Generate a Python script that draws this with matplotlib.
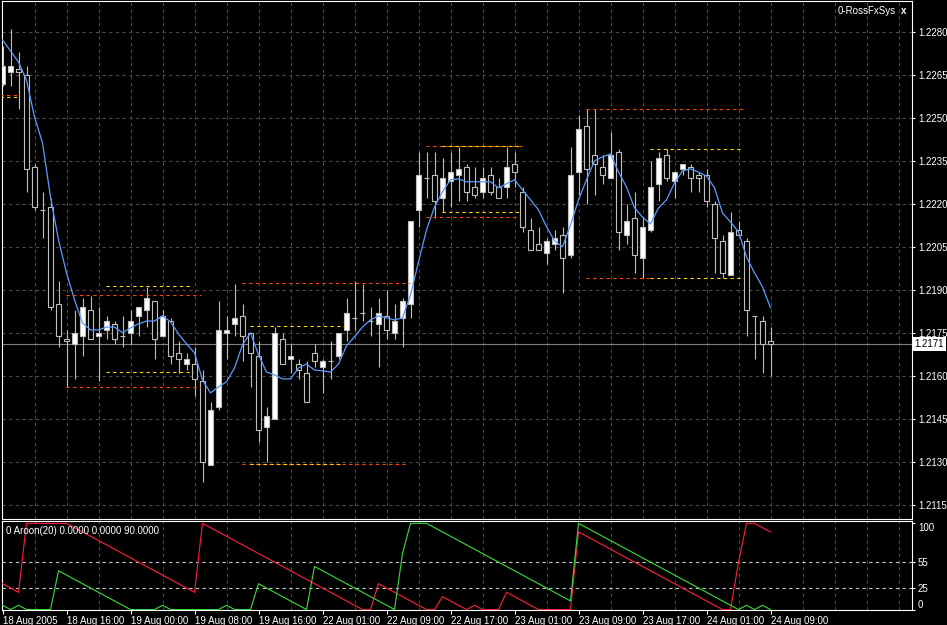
import numpy as np
import matplotlib
matplotlib.use('Agg')
import matplotlib.pyplot as plt

# EURUSD H1, 18 Aug 2005 08:00 .. 24 Aug 2005 09:00
opens = [1.2262, 1.2266, 1.2267, 1.2265, 1.2233, 1.2218, 1.2219, 1.2185, 1.2173, 1.2171,
         1.2174, 1.2183, 1.2174, 1.2176, 1.2178, 1.2174, 1.2175, 1.2181, 1.2183, 1.2186,
         1.2174, 1.2179, 1.2168, 1.2164, 1.2164, 1.2158, 1.2129, 1.2149, 1.2175, 1.2178,
         1.2181, 1.2175, 1.2167, 1.2142, 1.2145, 1.2173, 1.2166, 1.2164, 1.2161, 1.2168,
         1.2163, 1.2165, 1.2167, 1.2176, 1.2180, 1.2182, 1.2179, 1.2178, 1.2181, 1.2175,
         1.2180, 1.2185, 1.2218, 1.2229, 1.2230, 1.2222, 1.2228, 1.2230, 1.2233, 1.2226,
         1.2224, 1.2230, 1.2226, 1.2226, 1.2234, 1.2224, 1.2211, 1.2206, 1.2203, 1.2206,
         1.2209, 1.2202, 1.2231, 1.2247, 1.2237, 1.2233, 1.2229, 1.2238, 1.2209, 1.2215,
         1.2201, 1.2211, 1.2227, 1.2237, 1.2228, 1.2232, 1.2233, 1.2230, 1.2230, 1.2220,
         1.2207, 1.2195, 1.2211, 1.2207, 1.2181, 1.2179, 1.2172]
highs = [1.2275, 1.2281, 1.2273, 1.2268, 1.2234, 1.2224, 1.2222, 1.2193, 1.2176, 1.2183,
         1.2187, 1.2188, 1.2184, 1.2181, 1.2179, 1.2181, 1.2183, 1.2184, 1.2191, 1.2186,
         1.2183, 1.2180, 1.2172, 1.2168, 1.2170, 1.2162, 1.2151, 1.2186, 1.2181, 1.2192,
         1.2185, 1.2175, 1.2172, 1.2149, 1.2177, 1.2175, 1.2171, 1.2166, 1.2165, 1.2171,
         1.2166, 1.2172, 1.2175, 1.2187, 1.2193, 1.2192, 1.2184, 1.2187, 1.2190, 1.2185,
         1.2187, 1.2214, 1.2238, 1.2238, 1.2238, 1.2236, 1.2238, 1.2240, 1.2234, 1.2233,
         1.2233, 1.2233, 1.2229, 1.2240, 1.2238, 1.2226, 1.2215, 1.2212, 1.2208, 1.2211,
         1.2212, 1.2240, 1.2251, 1.2253, 1.2253, 1.2237, 1.2245, 1.2239, 1.2220, 1.2224,
         1.2215, 1.2235, 1.2238, 1.2239, 1.2231, 1.2234, 1.2234, 1.2231, 1.2232, 1.2221,
         1.2209, 1.2217, 1.2214, 1.2208, 1.2181, 1.2181, 1.2177]
lows = [1.2261, 1.2261, 1.2253, 1.2224, 1.2218, 1.2208, 1.2183, 1.2170, 1.2156, 1.2159,
        1.2167, 1.2173, 1.2158, 1.2173, 1.2171, 1.2170, 1.2171, 1.2174, 1.2177, 1.2166,
        1.2174, 1.2164, 1.2161, 1.2162, 1.2153, 1.2123, 1.2129, 1.2148, 1.2166, 1.2174,
        1.2165, 1.2156, 1.2137, 1.2130, 1.2145, 1.2164, 1.2161, 1.2159, 1.2151, 1.2163,
        1.2154, 1.2159, 1.2166, 1.2172, 1.2176, 1.2179, 1.2174, 1.2163, 1.2173, 1.2173,
        1.2170, 1.2180, 1.2212, 1.2222, 1.2215, 1.2217, 1.2219, 1.2221, 1.2221, 1.2222,
        1.2222, 1.2223, 1.2222, 1.2222, 1.2226, 1.2210, 1.2204, 1.2204, 1.2199, 1.2204,
        1.2189, 1.2201, 1.2223, 1.2220, 1.2223, 1.2227, 1.2229, 1.2204, 1.2206, 1.2196,
        1.2194, 1.2210, 1.2221, 1.2228, 1.2222, 1.2230, 1.2224, 1.2224, 1.2219, 1.2196,
        1.2194, 1.2195, 1.2209, 1.2174, 1.2166, 1.2161, 1.2160]
closes = [1.2268, 1.2268, 1.2266, 1.2232, 1.2219, 1.2218, 1.2184, 1.2174, 1.2172, 1.2175,
          1.2184, 1.2173, 1.2175, 1.2179, 1.2173, 1.2174, 1.2179, 1.2184, 1.2187, 1.2173,
          1.2181, 1.2167, 1.2166, 1.2166, 1.2159, 1.2130, 1.2148, 1.2176, 1.2176, 1.2180,
          1.2174, 1.2168, 1.2141, 1.2146, 1.2175, 1.2164, 1.2167, 1.2162, 1.2151, 1.2165,
          1.2165, 1.2165, 1.2175, 1.2182, 1.2180, 1.2182, 1.2179, 1.2182, 1.2176, 1.2179,
          1.2186, 1.2214, 1.2230, 1.2229, 1.2221, 1.2229, 1.2231, 1.2232, 1.2224, 1.2223,
          1.2229, 1.2224, 1.2222, 1.2233, 1.2231, 1.2212, 1.2204, 1.2204, 1.2207, 1.2208,
          1.2201, 1.2230, 1.2246, 1.2232, 1.2234, 1.2230, 1.2237, 1.2210, 1.2214, 1.2202,
          1.2212, 1.2226, 1.2236, 1.2229, 1.2231, 1.2234, 1.2229, 1.2229, 1.2221, 1.2208,
          1.2196, 1.2210, 1.2209, 1.2183, 1.2181, 1.2171, 1.2171]
ma = [1.22772, 1.22734, 1.22695, 1.22632, 1.22503, 1.22413, 1.22224, 1.22074, 1.21959, 1.21865,
      1.21784, 1.21760, 1.21760, 1.21770, 1.21770, 1.21750, 1.21767, 1.21781, 1.21791, 1.21791,
      1.21809, 1.21788, 1.21746, 1.21711, 1.21680, 1.21585, 1.21540, 1.21561, 1.21579, 1.21627,
      1.21708, 1.21750, 1.21673, 1.21613, 1.21603, 1.21589, 1.21589, 1.21627, 1.21641, 1.21620,
      1.21617, 1.21613, 1.21641, 1.21704, 1.21736, 1.21770, 1.21795, 1.21809, 1.21802, 1.21795,
      1.21802, 1.21882, 1.21997, 1.22109, 1.22189, 1.22242, 1.22284, 1.22287, 1.22277, 1.22277,
      1.22277, 1.22277, 1.22256, 1.22270, 1.22284, 1.22249, 1.22214, 1.22179, 1.22120, 1.22071,
      1.22050, 1.22126, 1.22214, 1.22284, 1.22350, 1.22364, 1.22374, 1.22311, 1.22259, 1.22186,
      1.22154, 1.22130, 1.22186, 1.22214, 1.22273, 1.22315, 1.22322, 1.22311, 1.22297, 1.22256,
      1.22168, 1.22137, 1.22102, 1.22015, 1.21959, 1.21910, 1.21837]

# Aroon(20)
aroon_red = [30, 25, 20, 100, 100, 100, 100, 100, 100, 95,
             90, 85, 80, 75, 70, 65, 60, 55, 50, 45,
             40, 35, 30, 25, 20, 100, 95, 90, 85, 80,
             75, 70, 65, 60, 55, 50, 45, 40, 35, 30,
             25, 20, 15, 10, 5, 0, 0, 30, 25, 20,
             15, 10, 5, 0, 0, 15, 10, 5, 0, 5,
             0, 0, 0, 20, 15, 10, 5, 0, 0, 0,
             0, 0, 90, 85, 80, 75, 70, 65, 60, 55,
             50, 45, 40, 35, 30, 25, 20, 15, 10, 5,
             0, 0, 55, 100, 100, 95, 90]
aroon_green = [5, 0, 5, 0, 0, 0, 0, 45, 40, 35,
               30, 25, 20, 15, 10, 5, 0, 0, 0, 0,
               5, 0, 0, 0, 0, 0, 0, 0, 5, 0,
               0, 0, 30, 25, 20, 15, 10, 5, 0, 50,
               45, 40, 35, 30, 25, 20, 15, 10, 5, 0,
               65, 100, 100, 100, 95, 90, 85, 80, 75, 70,
               65, 60, 55, 50, 45, 40, 35, 30, 25, 20,
               15, 10, 100, 95, 90, 85, 80, 75, 70, 65,
               60, 55, 50, 45, 40, 35, 30, 25, 20, 15,
               10, 5, 0, 5, 0, 5, 0]

# RossFxSys levels: (price, from bar, to bar)
red_levels = [(1.22580, -0.3, 1.8), (1.21883, 7.9, 24.8), (1.21562, 7.9, 24.8),
              (1.21925, 29.9, 50.9), (1.21293, 29.9, 50.6), (1.22402, 52.9, 64.9),
              (1.22155, 52.9, 64.7), (1.22531, 72.9, 92.8), (1.21942, 72.9, 80.9)]
yellow_levels = [(1.22573, -0.3, 1.8), (1.21914, 12.9, 23.8), (1.21614, 12.9, 23.8),
                 (1.21775, 30.9, 42.8), (1.21293, 30.9, 42.6), (1.22402, 54.9, 64.9),
                 (1.22172, 54.9, 64.9), (1.22392, 80.9, 92.6), (1.21942, 80.9, 92.7)]

date_bars = [0, 8, 16, 24, 32, 40, 48, 56, 64, 72, 80, 88, 96]
date_labels = ['18 Aug 2005', '18 Aug 16:00', '19 Aug 00:00', '19 Aug 08:00',
               '19 Aug 16:00', '22 Aug 01:00', '22 Aug 09:00', '22 Aug 17:00',
               '23 Aug 01:00', '23 Aug 09:00', '23 Aug 17:00', '24 Aug 01:00',
               '24 Aug 09:00']
price_ticks = [1.2115, 1.2130, 1.2145, 1.2160, 1.2175, 1.2190, 1.2205,
               1.2220, 1.2235, 1.2250, 1.2265, 1.2280]
aroon_ticks = [0, 25, 55, 100]

plt.rcParams['font.family'] = ['Liberation Sans Narrow', 'Liberation Sans', 'DejaVu Sans']
FS = 7
WICK = '#BEBEBE'
GRID = '#4A4A4A'
DASH = (0, (3, 3))

W, H = 947, 625
fig = plt.figure(figsize=(W / 100, H / 100), dpi=100, facecolor='black')


def px_box(x0, y0, x1, y1):
    return [x0 / W, 1 - y1 / H, (x1 - x0) / W, (y1 - y0) / H]


ax = fig.add_axes(px_box(1.5, 1, 911.5, 519))
ax2 = fig.add_axes(px_box(1.5, 521, 911.5, 610))
for a in (ax, ax2):
    a.set_facecolor('black')
    for s in a.spines.values():
        s.set_color('white')
        s.set_linewidth(0.8)
    a.set_axisbelow(True)
    a.set_xlim(-0.125, 113.625)

idx = np.arange(len(closes))
o, h, l, c = map(np.array, (opens, highs, lows, closes))
bull = c > o

# candles
ax.vlines(idx, l, h, color=WICK, lw=0.8, zorder=2)
ax.bar(idx, np.abs(c - o), bottom=np.minimum(o, c), width=0.55,
       color=np.where(bull, 'white', 'black'), edgecolor=WICK, linewidth=0.8, zorder=3)
ax.plot(idx, ma, color='#5A9BFF', lw=0.9, zorder=4)

for p, a, b in red_levels:
    ax.plot([a, b], [p, p], color='#FF4500', ls=DASH, lw=0.8, zorder=5)
for p, a, b in yellow_levels:
    ax.plot([a, b], [p, p], color='#FFD700', ls=DASH, lw=0.8, zorder=6)

ax.axhline(closes[-1], color='#808080', lw=0.8, zorder=1)

ax.set_ylim(1.21100, 1.22908)
ax.set_xticks(np.arange(4, 114, 4))
ax.set_yticks(price_ticks, labels=[f'{v:.4f}' for v in price_ticks])
ax.yaxis.tick_right()
ax.tick_params(axis='x', length=0, labelbottom=False)
ax.tick_params(axis='y', colors='white', labelcolor='white', labelsize=FS,
               length=2.2, width=0.8, pad=2.4)
ax.grid(True, color=GRID, ls=DASH, lw=0.8)

# Aroon panel
ax2.plot(idx, aroon_red, color='#FF1E3C', lw=0.8, zorder=3)
ax2.plot(idx, aroon_green, color='#3CDC3C', lw=0.8, zorder=3)
ax2.axhline(55, color='#C8C8C8', ls=DASH, lw=0.8, zorder=1)
ax2.axhline(25, color='#C8C8C8', ls=DASH, lw=0.8, zorder=1)
ax2.set_ylim(-0.5, 102.7)
ax2.set_xticks(date_bars, labels=date_labels)
ax2.set_xticks(np.arange(4, 114, 4), minor=True)
ax2.grid(True, which='minor', axis='x', color=GRID, ls=DASH, lw=0.8)
ax2.tick_params(axis='x', which='major', colors='white', labelcolor='white',
                labelsize=FS, length=3, width=0.8, pad=1)
ax2.tick_params(axis='x', which='minor', length=0)
for t in ax2.get_xticklabels():
    t.set_ha('left')
ax2.set_yticks(aroon_ticks, labels=[str(v) for v in aroon_ticks])
ax2.yaxis.tick_right()
ax2.tick_params(axis='y', colors='white', labelcolor='white', labelsize=FS,
                length=2.2, width=0.8, pad=2.4)
ylabs = ax2.get_yticklabels()
ylabs[0].set_va('bottom')
ylabs[-1].set_va('top')

fig.text(6 / W, 1 - 531 / H, '0 Aroon(20) 0.0000 0.0000 90.0000',
         color='white', fontsize=FS, va='center', ha='left')
fig.text(838 / W, 1 - 11.5 / H, '0-RossFxSys', color='white', fontsize=FS,
         va='center', ha='left')
fig.text(901 / W, 1 - 11.5 / H, 'x', color='white', fontsize=FS,
         weight='bold', va='center', ha='left')
fig.text(914.5 / W, 1 - 344 / H, f'{closes[-1]:.4f}', color='black', fontsize=FS,
         va='center', ha='left',
         bbox=dict(boxstyle='square,pad=0.2', fc='white', ec='none'))

fig.savefig('out.png', dpi=100, facecolor='black')
